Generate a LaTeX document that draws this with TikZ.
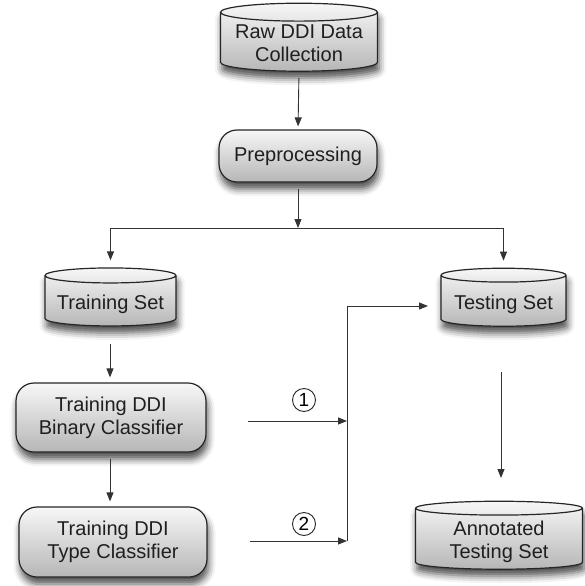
\documentclass[tikz,border=0pt]{standalone}
\usepackage{fontspec}
\setmainfont{Liberation Sans}
\usetikzlibrary{shapes.geometric,arrows.meta,shadows.blur}

\definecolor{edge}{HTML}{262626}
\definecolor{wire}{HTML}{333333}
\definecolor{filltop}{HTML}{F7F7F7}
\definecolor{fillbot}{HTML}{B6B6B6}

% text of a data store sits in the body, a little below the node centre;
% the box is given no height so that the store keeps its set size
\newcommand{\storetext}[1]{\raisebox{-9pt}[0pt][0pt]{\begin{tabular}{@{}c@{}}#1\end{tabular}}}

\tikzset{
  txt/.style={font=\fontsize{20}{23}\selectfont, align=center, text=black!88},
  softshadow/.style={blur shadow={shadow xshift=1.5pt, shadow yshift=-7pt,
      shadow blur radius=7pt, shadow opacity=70}},
  procbox/.style={draw=edge, line width=1.2pt, rounded corners=18pt,
      top color=filltop, bottom color=fillbot, inner sep=0pt, txt, softshadow},
  store/.style={cylinder, shape border rotate=90, aspect=0.14,
      draw=edge, line width=1.2pt, top color=filltop, bottom color=fillbot,
      inner sep=0pt, txt, softshadow},
  flow/.style={draw=wire, line width=0.9pt, -{Triangle[length=9pt,width=7pt]}},
  numcirc/.style={circle, draw=black!85, line width=0.9pt, minimum size=23pt,
      inner sep=0pt, font=\fontsize{19}{19}\selectfont}
}

\begin{document}
\begin{tikzpicture}[x=1pt, y={(0pt,-1pt)}]
  \useasboundingbox (0,0) rectangle (584,586);

  % data stores
  \node[store, minimum width=157pt, minimum height=68pt] (raw) at (299,42)
       {\storetext{Raw DDI Data\\Collection}};
  \node[store, minimum width=131pt, minimum height=58pt] (train) at (110.5,301)
       {\storetext{Training Set}};
  \node[store, minimum width=125pt, minimum height=58pt] (test) at (503.5,301)
       {\storetext{Testing Set}};
  \node[store, minimum width=167pt, minimum height=68pt] (annot) at (499,539)
       {\storetext{Annotated\\Testing Set}};

  % processing steps
  \node[procbox, minimum width=158pt, minimum height=52pt] (prep) at (298,156)
       {Preprocessing};
  \node[procbox, minimum width=190pt, minimum height=69pt] (bin) at (111,417.5)
       {Training DDI\\Binary Classifier};
  \node[procbox, minimum width=188pt, minimum height=70pt] (type) at (113,542)
       {Training DDI\\Type Classifier};

  % step numbers
  \node[numcirc] (c1) at (304,400) {1};
  \node[numcirc] (c2) at (304,524) {2};

  % routing points
  \coordinate (split) at (298,228);
  \coordinate (o1) at (248,421);
  \coordinate (j1) at (347,421);
  \coordinate (o2) at (250,541);
  \coordinate (j2) at (347,541);
  \coordinate (jt) at (347,306);
  \coordinate (tt) at (428,306);
  \coordinate (ts) at (501,372);
  \coordinate (ta) at (501,478);
  \coordinate (trb) at (110,344);

  % connectors
  \draw[flow, shorten <=6pt, shorten >=3pt] (raw.south) -- (prep.north);
  \draw[flow, shorten <=6pt] (prep.south) -- (split);
  \draw[flow, shorten >=7pt] (split) -| (train.north);
  \draw[flow, shorten >=7pt] (split) -| (test.north);
  \draw[flow, shorten >=5pt] (trb) -- (trb |- bin.north);
  \draw[flow, shorten <=6pt, shorten >=5pt] (bin.south -| trb) -- (trb |- type.north);
  \draw[flow] (o1) -- (j1);
  \draw[flow] (o2) -- (j2);
  \draw[flow] (j2) -- (jt) -- (tt);
  \draw[flow] (ts) -- (ta);
\end{tikzpicture}
\end{document}
